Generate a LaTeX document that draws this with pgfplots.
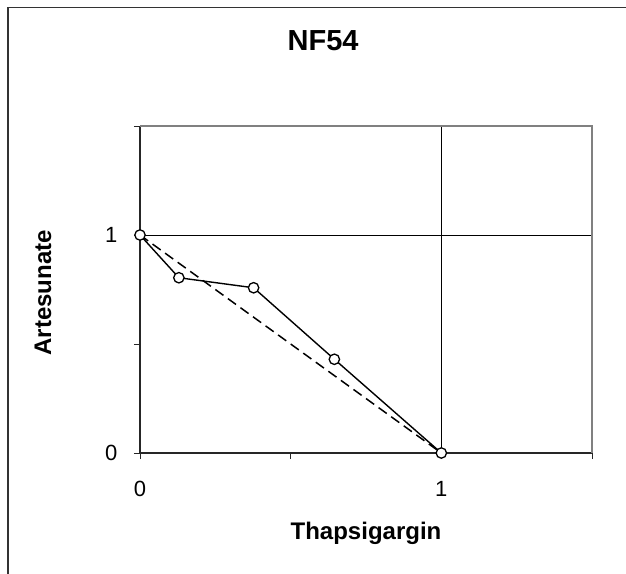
\documentclass[border=0pt]{standalone}
\usepackage{pgfplots}
\pgfplotsset{compat=1.18}
\usepackage{fontspec}
\setmainfont{Liberation Sans}
\begin{document}
\begin{tikzpicture}[x=1pt,y=1pt]
\useasboundingbox (0,0) rectangle (626,-573);
\draw[line width=1.8pt, black!80] (8,-575) -- (8,-7.5) -- (628,-7.5);
\begin{axis}[
  at={(140pt,-453pt)}, anchor=south west,
  scale only axis, width=452pt, height=327pt,
  xmin=0, xmax=1.5, ymin=0, ymax=1.5,
  axis lines=left, axis line style={-, line width=1.3pt, black!85},
  xtick={0,1}, ytick={0,1},
  minor xtick={0.5,1.5}, minor ytick={0.5,1.5},
  tick align=outside, major tick length=6pt, minor tick length=6pt,
  every tick/.style={line width=1pt, black!85},
  grid=major, major grid style={line width=0.9pt, black},
  minor grid style={draw=none},
  /pgf/number format/assume math mode=true,
  tick label style={font=\fontsize{22}{24}\selectfont},
  xticklabel style={yshift=-19pt},
  yticklabel style={xshift=-13pt},
  title={\textbf{NF54}},
  title style={font=\fontsize{29}{32}\selectfont, at={(axis description cs:0.405,1)}, anchor=center, yshift=79pt},
  xlabel={\textbf{Thapsigargin}},
  xlabel style={font=\fontsize{24}{26}\selectfont, at={(axis description cs:0.5,0)}, anchor=center, yshift=-80pt},
  ylabel={\textbf{Artesunate}},
  ylabel style={font=\fontsize{24}{26}\selectfont, at={(axis description cs:0,0.49)}, anchor=center, rotate=0, yshift=97pt},
  clip=false,
  after end axis/.code={
    \draw[line width=1.3pt, black!50] (rel axis cs:0,1) -- (rel axis cs:1,1) -- (rel axis cs:1,0);
  },
]
\addplot[black, line width=1.5pt, dash pattern=on 10pt off 5.5pt] coordinates {(0,1) (1,0)};
\addplot[black, line width=1.4pt, mark=*, mark size=5.2pt, mark options={fill=white, draw=black, line width=1.3pt, solid}] coordinates {
(0,1.0) (0.129,0.804) (0.377,0.758) (0.645,0.430) (1,0)};
\end{axis}
\end{tikzpicture}
\end{document}
